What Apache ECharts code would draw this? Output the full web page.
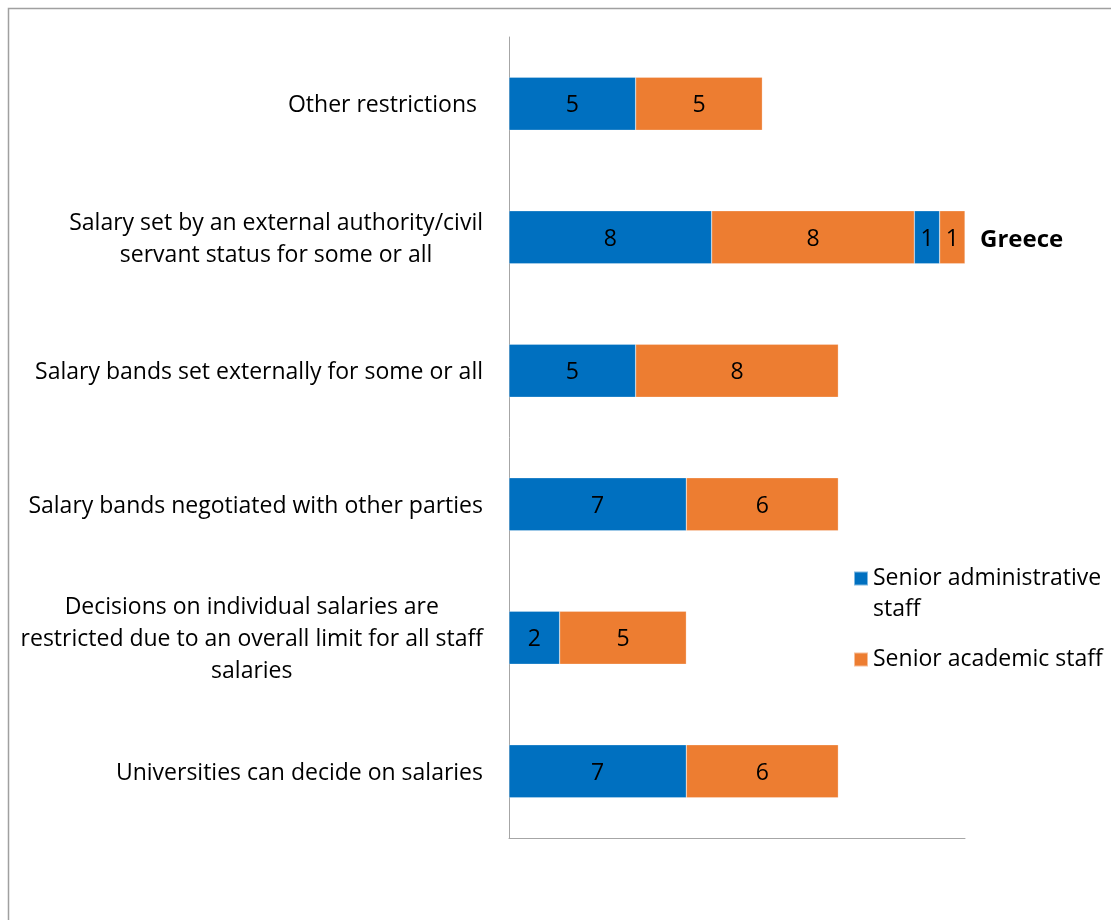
<!DOCTYPE html>
<html>
<head>
<meta charset="utf-8">
<script src="https://cdn.jsdelivr.net/npm/echarts@6/dist/echarts.min.js"></script>
<style>
  html, body { margin: 0; padding: 0; background: #fff; }
  #chart { width: 1111px; height: 920px; }
</style>
</head>
<body>
<div id="chart"></div>
<script>
// Categories listed top to bottom
const categories = [
  'Other restrictions ',
  'Salary set by an external authority/civil\nservant status for some or all',
  'Salary bands set externally for some or all',
  'Salary bands negotiated with other parties',
  'Decisions on individual salaries are\nrestricted due to an overall limit for all staff\nsalaries',
  'Universities can decide on salaries'
];
const adminStaff    = [5, 8, 5, 7, 2, 7];
const academicStaff = [5, 8, 8, 6, 5, 6];
// Greece shown as its own pair stacked after the totals
const greeceAdmin    = [null, 1, null, null, null, null];
const greeceAcademic = [null, 1, null, null, null, null];
const greeceMarker   = [null, 0, null, null, null, null];

const BLUE = '#0070C0';
const ORANGE = '#ED7D31';
const AXIS = '#A6A6A6';
const FONT = 'Open Sans';
const FS = 23;

const chart = echarts.init(document.getElementById('chart'));

const barLabel = {
  show: true,
  position: 'inside',
  offset: [0, 2],
  color: '#000',
  fontFamily: FONT,
  fontSize: FS
};

function barSeries(name, data, color) {
  return {
    name: name,
    type: 'bar',
    stack: 'total',
    data: data,
    barWidth: 53,
    itemStyle: { color: color, borderColor: 'rgba(255,255,255,0.5)', borderWidth: 0.5 },
    label: barLabel,
    emphasis: { disabled: true }
  };
}

// Legend swatches: the square sits at the top of a tall icon box for the
// two-line entry, and in the middle for the single-line entry.
const ICON_TOP = 'path://M0 0h14v14h-14z M13.99 44.99h0.01v0.01h-0.01z';
const ICON_MID = 'path://M0 0h0.01v0.01h-0.01z M0 15.5h14v14h-14z M13.99 44.99h0.01v0.01h-0.01z';

chart.setOption({
  animation: false,
  backgroundColor: '#fff',
  grid: { left: 509, right: 146, top: 37, bottom: 82, containLabel: false },
  xAxis: {
    type: 'value',
    min: 0,
    max: 18,
    axisLine: { show: true, lineStyle: { color: AXIS, width: 1 } },
    axisTick: { show: false },
    axisLabel: { show: false },
    splitLine: { show: false }
  },
  yAxis: {
    type: 'category',
    inverse: true,
    data: categories,
    axisLine: { show: true, lineStyle: { color: AXIS, width: 1 } },
    axisTick: { show: false },
    axisLabel: {
      margin: 26,
      color: '#000',
      fontFamily: FONT,
      fontSize: FS,
      lineHeight: 32,
      formatter: function (v) {
        return v.split('\n').map(function (l) { return '{c|' + l + '}'; }).join('\n');
      },
      rich: {
        c: { align: 'center', color: '#000', fontFamily: FONT, fontSize: FS, lineHeight: 32, padding: [4, 0, 0, 0] }
      }
    }
  },
  legend: {
    orient: 'vertical',
    left: 853,
    top: 563,
    padding: 0,
    itemWidth: 14,
    itemHeight: 45,
    itemGap: 11,
    symbolKeepAspect: false,
    selectedMode: false,
    textStyle: { color: '#000', fontFamily: FONT, fontSize: FS, lineHeight: 31 },
    data: [
      { name: 'Senior administrative\nstaff', icon: ICON_TOP },
      { name: 'Senior academic staff', icon: ICON_MID }
    ]
  },
  series: [
    barSeries('Senior administrative\nstaff', adminStaff, BLUE),
    barSeries('Senior academic staff', academicStaff, ORANGE),
    barSeries('Greece (administrative)', greeceAdmin, BLUE),
    barSeries('Greece (academic)', greeceAcademic, ORANGE),
    {
      name: 'Greece',
      type: 'bar',
      stack: 'total',
      data: greeceMarker,
      barWidth: 53,
      itemStyle: { color: 'transparent' },
      label: {
        show: true,
        position: 'right',
        distance: 15,
        offset: [0, 3],
        formatter: 'Greece',
        color: '#000',
        fontFamily: FONT,
        fontSize: 24,
        fontWeight: 'bold'
      },
      emphasis: { disabled: true }
    }
  ],
  graphic: [
    {
      type: 'rect',
      shape: { x: 8.5, y: 8.5, width: 1200, height: 1000 },
      style: { fill: 'none', stroke: '#A0A0A0', lineWidth: 1.5 },
      silent: true
    }
  ]
});
</script>
</body>
</html>
